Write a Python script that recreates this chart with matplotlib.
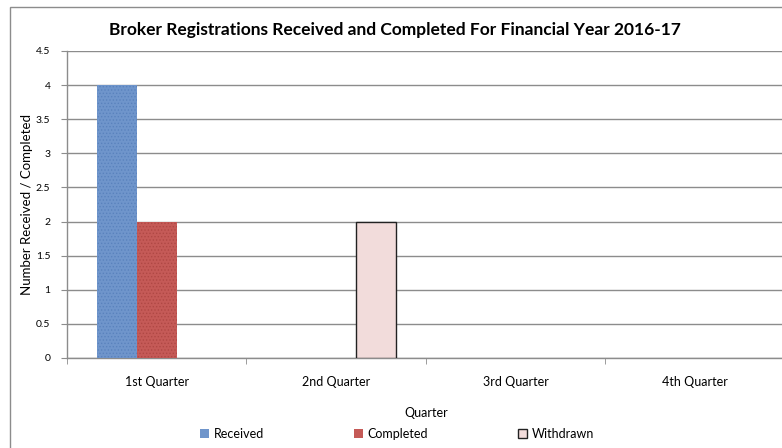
import numpy as np
import matplotlib.pyplot as plt
from matplotlib.patches import Rectangle

plt.rcParams['font.family'] = ['Lato', 'DejaVu Sans']
plt.rcParams['hatch.linewidth'] = 0.6

# Chart data
quarters = ['1st Quarter', '2nd Quarter', '3rd Quarter', '4th Quarter']
received = [4, 0, 0, 0]
completed = [2, 0, 0, 0]
withdrawn = [0, 2, 0, 0]
y_ticks = [0, 0.5, 1, 1.5, 2, 2.5, 3, 3.5, 4, 4.5]
y_tick_labels = ['0', '0.5', '1', '1.5', '2', '2.5', '3', '3.5', '4', '4.5']

fig = plt.figure(figsize=(7.82, 4.48), dpi=100)
ax = fig.add_axes([0.0857, 0.2009, 0.918, 0.6853])

# outer chart border
fig.patches.append(Rectangle((9.5 / 782, -0.1), 1.2, 1 - 7.5 / 448 + 0.1,
                             transform=fig.transFigure, fill=False,
                             edgecolor='#8c8c8c', linewidth=1.0))

x = np.arange(len(quarters))
w = 0.223
ax.bar(x - w, received, w, color='#6f95cb', edgecolor='#5a82bd',
       hatch='.....', linewidth=0, label='Received', zorder=3)
ax.bar(x, completed, w, color='#c55a57', edgecolor='#b04844',
       hatch='.....', linewidth=0, label='Completed', zorder=3)
# no outline on empty bars
w_lw = [1.0 if v > 0 else 0 for v in withdrawn]
ax.bar(x + w, withdrawn, w, color='#f2dcdb', edgecolor='#222222',
       linewidth=w_lw, label='Withdrawn', zorder=3)

ax.set_xlim(-0.5, 3.5)
ax.set_ylim(0, 4.5)
ax.set_yticks(y_ticks)
ax.set_yticklabels(y_tick_labels, fontsize=7.5)
ax.yaxis.grid(True, color='#8c8c8c', linewidth=1.0, zorder=0)

ax.set_xticks(x)
ax.set_xticklabels(quarters, fontsize=9)
ax.set_xticks(np.arange(-0.5, 4, 1), minor=True)
ax.tick_params(axis='x', which='major', length=0, pad=13)
ax.tick_params(axis='x', which='minor', length=4, color='#8c8c8c')
ax.tick_params(axis='y', length=4, color='#8c8c8c', pad=8)

for side in ['top', 'right']:
    ax.spines[side].set_visible(False)
for side in ['left', 'bottom']:
    ax.spines[side].set_color('#8c8c8c')
    ax.spines[side].set_linewidth(1.0)

ax.set_xlabel('Quarter', fontsize=9, labelpad=14)
ax.set_ylabel('Number Received / Completed', fontsize=9.5)
ax.yaxis.set_label_coords(-0.047, 0.5)

fig.text(0.505, 0.933, 'Broker Registrations Received and Completed For Financial Year 2016-17',
         ha='center', va='center', fontsize=12.5, fontweight='bold')

leg = fig.legend(loc='center', bbox_to_anchor=(0.508, 0.031), ncol=3, frameon=False,
                 fontsize=9, handlelength=0.7, handleheight=0.7, handletextpad=0.4,
                 columnspacing=7.2)
for h in leg.legend_handles[:2]:
    h.set_hatch(None)
leg.legend_handles[2].set_linewidth(1.0)
leg.legend_handles[2].set_edgecolor('#222222')

fig.savefig('out.png', dpi=100)
